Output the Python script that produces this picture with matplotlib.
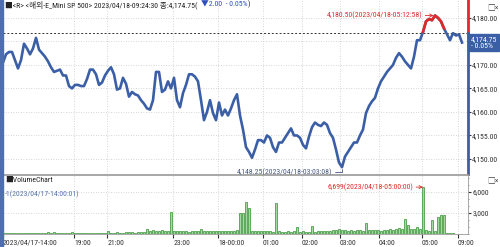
import matplotlib
matplotlib.use("Agg")
import matplotlib.pyplot as plt
import matplotlib.transforms as mtrans
from matplotlib import font_manager
from matplotlib.patches import Rectangle
from matplotlib.ticker import FixedLocator, MultipleLocator, FuncFormatter
import numpy as np

# narrow font if there is one, else a smaller regular sans
_names = {f.name for f in font_manager.fontManager.ttflist}
_narrow = [n for n in ('Liberation Sans Narrow', 'Arial Narrow', 'Roboto Condensed') if n in _names]
if _narrow:
    plt.rcParams['font.family'] = [_narrow[0], 'Noto Sans CJK KR', 'DejaVu Sans']
    FS = 5.6
else:
    plt.rcParams['font.family'] = ['Liberation Sans', 'Noto Sans CJK KR', 'DejaVu Sans']
    FS = 5.0
plt.rcParams['font.size'] = FS

# price per bar (E-mini S&P 500, 2023/04/17 14:00 -> 2023/04/18 09:24)
prices = [
    4170.5, 4172.25, 4172.75, 4172.75, 4171.0, 4169.25, 4171.0, 4174.5, 4173.5, 4172.25,
    4173.5, 4175.75, 4173.25, 4172.5, 4171.75, 4170.75, 4169.5, 4168.5, 4168.75, 4169.0,
    4167.75, 4167.75, 4165.5, 4165.0, 4165.75, 4165.75, 4165.5, 4165.5, 4167.0, 4169.0,
    4169.0, 4168.0, 4165.75, 4166.25, 4167.75, 4168.75, 4169.5, 4168.0, 4164.75, 4165.0,
    4167.25, 4166.0, 4163.25, 4164.25, 4163.75, 4163.5, 4162.5, 4161.75, 4160.75, 4160.5,
    4162.5, 4168.5, 4168.5, 4164.25, 4164.75, 4166.5, 4165.0, 4167.25, 4162.5, 4161.0,
    4164.0, 4165.75, 4168.0, 4168.0, 4167.5, 4166.5, 4162.5, 4158.25, 4160.0, 4162.5,
    4159.75, 4158.25, 4162.0, 4159.25, 4160.5, 4159.25, 4160.75, 4162.5, 4163.75, 4159.25,
    4156.25, 4152.5, 4151.5, 4150.25, 4152.0, 4154.0, 4154.0, 4153.5, 4155.0, 4154.5,
    4152.5, 4151.5, 4153.5, 4153.5, 4154.5, 4155.5, 4156.5, 4155.0, 4155.0, 4154.5,
    4153.0, 4152.25, 4154.75, 4156.75, 4157.75, 4157.25, 4157.0, 4157.75, 4157.25, 4155.5,
    4154.5, 4152.0, 4149.25, 4148.25, 4150.5, 4151.5, 4152.5, 4153.5, 4153.5, 4155.0,
    4156.25, 4159.75, 4161.25, 4162.25, 4163.0, 4165.0, 4166.5, 4167.5, 4168.5, 4169.25,
    4170.0, 4171.5, 4172.5, 4171.75, 4170.75, 4170.0, 4169.25, 4171.75, 4175.25, 4175.25,
    4177.0, 4179.25, 4179.75, 4179.5, 4180.5, 4180.0, 4179.25, 4177.75, 4176.5, 4175.25,
    4176.75, 4176.25, 4176.5, 4174.75,
]
volumes = [
    120, 150, 100, 130, 160, 120, 140, 110, 150, 130,
    120, 140, 180, 110, 130, 300, 160, 350, 140, 120,
    150, 130, 110, 300, 140, 120, 160, 130, 150, 120,
    140, 110, 130, 150, 120, 400, 180, 160, 350, 200,
    180, 300, 220, 250, 200, 230, 300, 250, 700, 450,
    550, 400, 480, 600, 420, 500, 3140, 450, 380, 420,
    400, 380, 350, 420, 500, 450, 700, 480, 420, 400,
    450, 420, 500, 480, 450, 420, 380, 400, 550, 3000,
    3000, 4570, 3700, 500, 420, 380, 450, 400, 420, 380,
    350, 4430, 420, 350, 300, 380, 320, 400, 1000, 350,
    380, 300, 320, 1140, 350, 400, 380, 420, 450, 500,
    600, 570, 650, 520, 600, 480, 550, 500, 600, 520,
    500, 1570, 550, 600, 580, 520, 500, 600, 550, 650,
    600, 700, 800, 650, 2140, 1280, 750, 700, 1000, 650,
    6699, 600, 500, 2000, 450, 2430, 2710, 2710, 150, 100,
    80, 60, 50, 40,
]
prev_close = 4176.75
tick_idx = [0, 23.7, 34.7, 56.7, 71.7, 86.7, 99.7, 112.3, 125.3, 139.7, 151.7]
tick_labels = ['2023/04/17-14:00', '19:00', '21:00', '23:00', '18-00:00',
               '01:00', '02:00', '03:00', '04:00', '05:00', '09:00']
price_ticks = [4150, 4155, 4160, 4165, 4170, 4175, 4180]
vol_ticks = [3000, 6000]
hi_time = '2023/04/18-05:12:58'
lo_time = '2023/04/18-03:03:08'
vol_time = '2023/04/18-05:00:00'
header = '■<R> <해외-E_Mini SP 500> 2023/04/18-09:24:30 종:4,174.75(  '
change = '▼2.00  - 0.05%'
change_pct = '- 0.05%'

BLUE = '#3b5fa6'
RED = '#e02a2a'
GRID = '#c8c8c8'
TXT = '#333333'

fig = plt.figure(figsize=(5, 2.47), dpi=100)
ax = fig.add_axes([0.006, 0.2955, 0.930, 0.7045])
axv = fig.add_axes([0.006, 0.0526, 0.930, 0.2389], sharex=ax)

x = np.arange(len(prices))
p = np.array(prices)
ax.plot(x, p, color=BLUE, lw=1.9, zorder=3)
p_red = np.where(p > prev_close, p, np.nan)
ax.plot(x, p_red, color=RED, lw=1.9, zorder=4)
ax.axhline(prev_close, color='#333333', lw=0.7, ls=(0, (2, 2)), zorder=2)

ax.set_xlim(0, 155)
ax.set_ylim(4146.8, 4183.8)
ax.yaxis.tick_right()
ax.yaxis.set_major_locator(FixedLocator(price_ticks))
# the 4,175 label sits under the current-price box
ax.yaxis.set_major_formatter(FuncFormatter(lambda v, _: '' if v == 4175 else f"{v:,.2f}"))
ax.tick_params(axis='y', direction='out', length=2, pad=1, colors=TXT, labelsize=FS)
ax.set_xticks(tick_idx)
ax.tick_params(axis='x', length=0, labelbottom=False)
ax.grid(True, color=GRID, ls=(0, (1, 2)), lw=0.6)
for s in ['left', 'top', 'right']:
    ax.spines[s].set_visible(False)
ax.spines['bottom'].set_color('#999999')
ax.spines['bottom'].set_linewidth(0.6)

# right axis line: red above previous close, blue below
trans = mtrans.blended_transform_factory(ax.transAxes, ax.transData)
y0, y1 = ax.get_ylim()
ax.plot([1, 1], [prev_close, y1], color=RED, lw=2, transform=trans, clip_on=False)
ax.plot([1, 1], [y0, prev_close], color=BLUE, lw=2, transform=trans, clip_on=False)

# high / low markers
hi = int(np.argmax(p))
lo = int(np.argmin(p))
ax.annotate(f"{p[hi]:,.2f}({hi_time})", xy=(hi, p[hi]), xytext=(-9, 0),
            textcoords='offset points', ha='right', va='center', color=RED,
            arrowprops=dict(arrowstyle='->', color=RED, lw=0.6, shrinkA=0, shrinkB=1))
ax.annotate(f"{p[lo]:,.2f}({lo_time})", xy=(lo, p[lo]), xytext=(-7, -3.6),
            textcoords='offset points', ha='right', va='center', color='#4a5a85',
            arrowprops=dict(arrowstyle='-', color='#4a5a85', lw=0.6, shrinkA=0, shrinkB=1,
                            connectionstyle='angle,angleA=0,angleB=90,rad=0'))

# current price box
ax.annotate(f"{p[-1]:,.2f}\n{change_pct}", xy=(1.0, p[-1]), xycoords=trans,
            xytext=(2, 0), textcoords='offset points', ha='left', va='center',
            color='white', fontsize=FS, linespacing=1.15,
            bbox=dict(boxstyle='square,pad=0.3', fc=BLUE, ec=BLUE),
            annotation_clip=False, zorder=10)

# header
t1 = ax.text(0.005, 0.974, header, transform=ax.transAxes, ha='left', va='center',
             color='#222222', fontsize=FS)
t2 = ax.annotate(change, xy=(1, 0.5), xycoords=t1, ha='left', va='center',
                 color='#2d4fc0', fontsize=FS)
ax.annotate(')', xy=(1, 0.5), xycoords=t2, ha='left', va='center',
            color='#222222', fontsize=FS)

# volume panel
v = np.array(volumes)
axv.bar(x, v, width=0.6, color='#a3d8a3', edgecolor='#1f851f', lw=0.45, zorder=3)
axv.set_ylim(0, 8430)
axv.yaxis.tick_right()
axv.yaxis.set_major_locator(FixedLocator(vol_ticks))
axv.yaxis.set_minor_locator(MultipleLocator(1000))
axv.yaxis.set_major_formatter(FuncFormatter(lambda val, _: f"{val:,.0f}"))
axv.tick_params(axis='y', which='major', direction='out', length=2, pad=1, colors=TXT, labelsize=FS)
axv.tick_params(axis='y', which='minor', direction='out', length=1, colors='#777777')
axv.set_xticks(tick_idx, tick_labels)
plt.setp(axv.get_xticklabels(), ha='left')
axv.tick_params(axis='x', direction='out', length=3, pad=1, colors=TXT, labelsize=FS)
axv.grid(True, color=GRID, ls=(0, (1, 2)), lw=0.6)
axv.spines['left'].set_visible(False)
for s in ['top', 'right', 'bottom']:
    axv.spines[s].set_color('#999999')
    axv.spines[s].set_linewidth(0.6)

vm = int(np.argmax(v))
axv.annotate(f"{v[vm]:,}({vol_time})", xy=(vm, v[vm]), xytext=(-7, 0),
             textcoords='offset points', ha='right', va='center', color=RED,
             arrowprops=dict(arrowstyle='->', color=RED, lw=0.6, shrinkA=0, shrinkB=0))
axv.text(0.004, 0.915, '■VolumeChart', transform=axv.transAxes, ha='left', va='center',
         color='#222222', fontsize=FS)
axv.text(0.004, 0.678, '-1(2023/04/17-14:00:01)', transform=axv.transAxes, ha='left',
         va='center', color='#5575b0', fontsize=FS)

# window decorations
fig.add_artist(Rectangle((0, 0), 3 / 500, 1, transform=fig.transFigure,
                         color='#4d6fae', zorder=20))
fig.text(0.985, 0.985, '□×', ha='center', va='top', fontsize=FS, color='#444444')
fig.text(0.985, 0.285, '□×', ha='center', va='top', fontsize=FS, color='#444444')

fig.savefig('out.png', dpi=100)
